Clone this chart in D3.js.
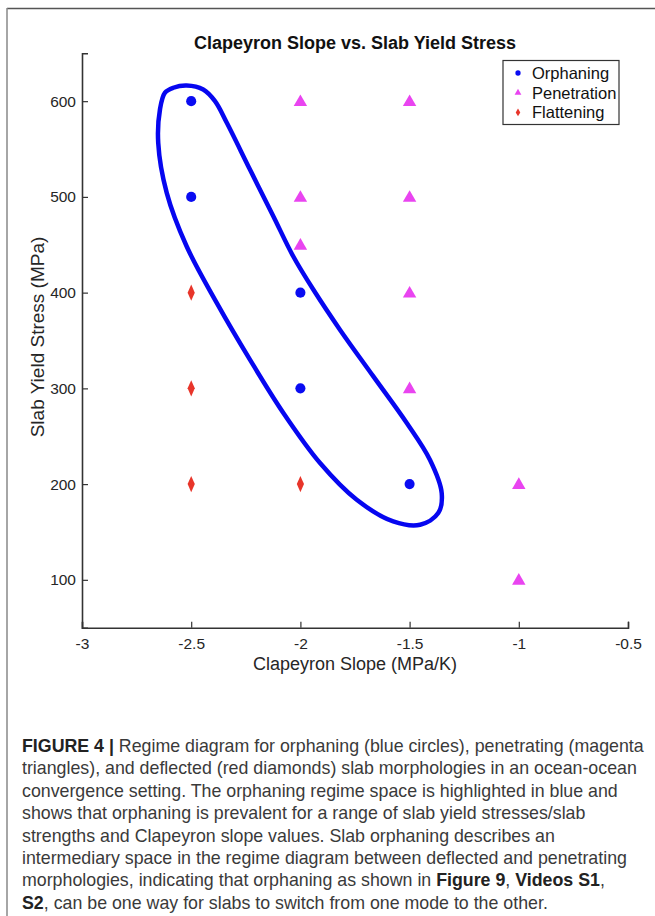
<!DOCTYPE html>
<html>
<head>
<meta charset="utf-8">
<script src="https://cdn.jsdelivr.net/npm/d3@7"></script>
<style>
  html, body { margin: 0; padding: 0; background: #fff; }
  svg { display: block; }
</style>
</head>
<body>
<svg id="chart" width="655" height="916"></svg>
<script>
// ---- data ----
const xTicks = [-3, -2.5, -2, -1.5, -1, -0.5];
const yTicks = [100, 200, 300, 400, 500, 600];

const orphaning = [
  { x: -2.5, y: 600 }, { x: -2.5, y: 500 }, { x: -2, y: 400 },
  { x: -2, y: 300 }, { x: -1.5, y: 200 }
];
const penetration = [
  { x: -2, y: 600 }, { x: -1.5, y: 600 }, { x: -2, y: 500 }, { x: -1.5, y: 500 },
  { x: -2, y: 450 }, { x: -1.5, y: 400 }, { x: -1.5, y: 300 },
  { x: -1, y: 200 }, { x: -1, y: 100 }
];
const flattening = [
  { x: -2.5, y: 400 }, { x: -2.5, y: 300 }, { x: -2.5, y: 200 }, { x: -2, y: 200 }
];
// hand-drawn enclosure of the orphaning regime (data coordinates)
const regimeOutline = [
  [-2.582, 614], [-2.521, 616.4], [-2.445, 612.2], [-2.391, 600], [-2.337, 577.4],
  [-2.231, 528.6], [-2.124, 479.8], [-2.033, 438], [-1.941, 403.2], [-1.819, 361.3],
  [-1.666, 312.5], [-1.513, 263.8], [-1.407, 225.4], [-1.353, 190.6], [-1.369, 169.7],
  [-1.452, 157.5], [-1.575, 161], [-1.742, 183.6], [-1.910, 222], [-2.078, 274.3],
  [-2.231, 330], [-2.383, 389.3], [-2.521, 448.4], [-2.612, 504.2], [-2.651, 556.5],
  [-2.643, 591.3], [-2.620, 608.8]
];

const titleText = "Clapeyron Slope vs. Slab Yield Stress";
const xLabel = "Clapeyron Slope (MPa/K)";
const yLabel = "Slab Yield Stress (MPa)";
const legendItems = ["Orphaning", "Penetration", "Flattening"];

const captionLines = [
  [["FIGURE 4 |", true], [" Regime diagram for orphaning (blue circles), penetrating (magenta", false]],
  [["triangles), and deflected (red diamonds) slab morphologies in an ocean-ocean", false]],
  [["convergence setting. The orphaning regime space is highlighted in blue and", false]],
  [["shows that orphaning is prevalent for a range of slab yield stresses/slab", false]],
  [["strengths and Clapeyron slope values. Slab orphaning describes an", false]],
  [["intermediary space in the regime diagram between deflected and penetrating", false]],
  [["morphologies, indicating that orphaning as shown in ", false], ["Figure 9", true], [", ", false], ["Videos S1", true], [",", false]],
  [["S2", true], [", can be one way for slabs to switch from one mode to the other.", false]]
];

// ---- layout ----
const FONT = "'Liberation Sans', Arial, Helvetica, sans-serif";
const COL = { blue: "#0a0cf2", mag: "#e944f0", red: "#e8352a" };
const svg = d3.select("#chart");

// figure frame
svg.append("line").attr("x1", 7).attr("x2", 655).attr("y1", 8.5).attr("y2", 8.5)
  .attr("stroke", "#555").attr("stroke-width", 1.5);
svg.append("line").attr("x1", 7).attr("x2", 7).attr("y1", 8).attr("y2", 916)
  .attr("stroke", "#888").attr("stroke-width", 1.5);

const x = d3.scaleLinear().domain([-3, -0.5]).range([82, 628]);
const y = d3.scaleLinear().domain([50, 650]).range([627.7, 53.3]);

const g = svg.append("g");

// axes (ticks inside, MATLAB style)
const xAxis = d3.axisBottom(x).tickValues(xTicks).tickSize(-6).tickPadding(10)
  .tickFormat(d => String(d));
const yAxis = d3.axisLeft(y).tickValues(yTicks).tickSize(-6).tickPadding(12)
  .tickFormat(d => String(d));

const gx = g.append("g").attr("transform", `translate(0,${y(50)})`).call(xAxis);
const gy = g.append("g").attr("transform", `translate(${x(-3)},0)`).call(yAxis);
[gx, gy].forEach(a => {
  a.select(".domain").attr("stroke", "#333").attr("stroke-width", 1.6);
  a.selectAll(".tick line").attr("stroke", "#333").attr("stroke-width", 1.2);
  a.selectAll(".tick text").attr("fill", "#262626").style("font-family", FONT).style("font-size", "15.5px");
});
gx.selectAll(".tick text").attr("dy", "0.71em");
gy.selectAll(".tick text").attr("x", -6);

// regime outline
g.append("path")
  .datum(regimeOutline)
  .attr("d", d3.line().x(d => x(d[0])).y(d => y(d[1])).curve(d3.curveCatmullRomClosed.alpha(0.5)))
  .attr("fill", "none").attr("stroke", "#0606f0").attr("stroke-width", 4.5);

// markers
const sym = {
  circle: d3.symbol().type(d3.symbolCircle).size(80),
  tri: d3.symbol().type(d3.symbolTriangle).size(78),
  dia: d3.symbol().type(d3.symbolDiamond).size(62)
};
g.selectAll(".orph").data(orphaning).join("path")
  .attr("transform", d => `translate(${x(d.x)},${y(d.y)})`)
  .attr("d", sym.circle()).attr("fill", COL.blue);
g.selectAll(".pen").data(penetration).join("path")
  .attr("transform", d => `translate(${x(d.x)},${y(d.y) + 1})`)
  .attr("d", sym.tri()).attr("fill", COL.mag);
g.selectAll(".flat").data(flattening).join("path")
  .attr("transform", d => `translate(${x(d.x)},${y(d.y)}) scale(0.85,1.1)`)
  .attr("d", sym.dia()).attr("fill", COL.red);

// title & labels
svg.append("text").attr("x", 355).attr("y", 49).attr("text-anchor", "middle")
  .style("font-family", FONT).style("font-size", "18px").style("font-weight", "bold")
  .attr("fill", "#111").text(titleText);
svg.append("text").attr("x", 355).attr("y", 670).attr("text-anchor", "middle")
  .style("font-family", FONT).style("font-size", "18px").attr("fill", "#262626").text(xLabel);
svg.append("text").attr("transform", "translate(44,337) rotate(-90)").attr("text-anchor", "middle")
  .style("font-family", FONT).style("font-size", "19px").attr("fill", "#262626").text(yLabel);

// legend
const lg = svg.append("g");
lg.append("rect").attr("x", 503).attr("y", 60.5).attr("width", 116).attr("height", 64)
  .attr("fill", "#fff").attr("stroke", "#333").attr("stroke-width", 1.2);
const legSyms = [
  { s: d3.symbol().type(d3.symbolCircle).size(22), c: COL.blue },
  { s: d3.symbol().type(d3.symbolTriangle).size(20), c: COL.mag },
  { s: d3.symbol().type(d3.symbolDiamond).size(18), c: COL.red }
];
legendItems.forEach((t, i) => {
  const cy = 73 + i * 19.7;
  lg.append("path").attr("transform", `translate(518,${cy})`).attr("d", legSyms[i].s()).attr("fill", legSyms[i].c);
  lg.append("text").attr("x", 532).attr("y", cy + 6)
    .style("font-family", FONT).style("font-size", "16.5px").attr("fill", "#111").text(t);
});

// caption
const cap = svg.append("g");
captionLines.forEach((segs, i) => {
  const t = cap.append("text").attr("x", 22).attr("y", 752 + i * 22.4)
    .style("font-family", FONT).style("font-size", "17.8px").attr("fill", "#333");
  segs.forEach(([s, b]) => {
    t.append("tspan").text(s).style("font-weight", b ? "bold" : "normal")
      .attr("fill", b ? "#222" : "#3a3a3a");
  });
});
</script>
</body>
</html>
